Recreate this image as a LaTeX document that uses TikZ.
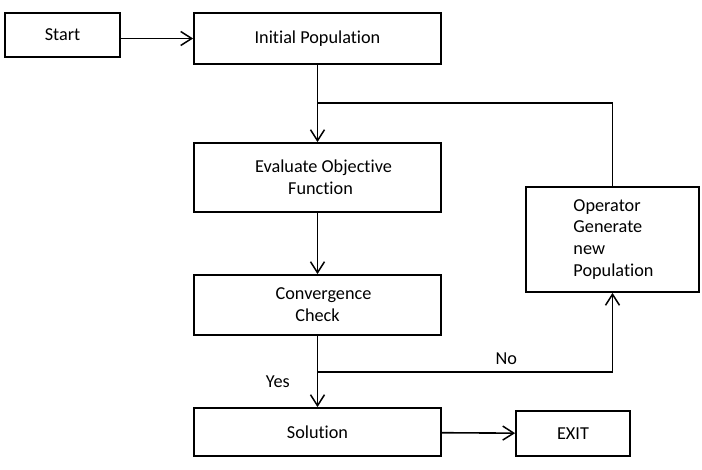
\documentclass[tikz,border=0pt]{standalone}
\usepackage{fontspec}
\setmainfont[Ligatures=NoCommon]{Carlito}
\usetikzlibrary{arrows.meta}
\begin{document}
\begin{tikzpicture}[x=1bp, y=-1bp,
    box/.style={draw, line width=1.8bp, align=center, inner sep=0pt,
        font=\fontsize{18.3}{22}\selectfont},
    arr/.style={line width=1.6bp, -{Straight Barb[length=11bp, width=14bp, line width=1.5bp]}},
    lnk/.style={line width=1.8bp},
    lbl/.style={font=\fontsize{18.3}{22}\selectfont, inner sep=0pt}]
    \useasboundingbox (0,0) rectangle (702,470);
    \node[box, minimum width=115bp, minimum height=44bp] (start) at (62.5,35) {Start};
    \node[box, minimum width=247bp, minimum height=51bp] (init) at (317.5,38.5) {Initial Population};
    \node[box, minimum width=247bp, minimum height=69bp] (eval) at (317.5,177.5) {\hspace*{12bp}Evaluate Objective\\\hspace*{6bp}Function};
    \node[box, minimum width=247bp, minimum height=60bp] (conv) at (317.5,305) {\hspace*{12bp}Convergence\\Check};
    \node[box, minimum width=247bp, minimum height=48bp] (sol) at (317.5,432) {Solution};
    \node[box, minimum width=114bp, minimum height=45bp] (exit) at (573,433.5) {EXIT};
    \node[box, align=left, minimum width=173bp, minimum height=105bp] (oper) at (612.5,239.5) {\hspace*{2bp}Operator\\\hspace*{2bp}Generate\\\hspace*{2bp}new\\\hspace*{2bp}Population};
    \coordinate (join) at (317.5,103);
    \coordinate (split) at (317.5,372);
    \draw[arr] (start.east |- init.west) -- (init.west);
    \draw[arr] (init) -- (eval);
    \draw[arr] (eval) -- (conv);
    \draw[arr] (conv) -- (sol) node[lbl, pos=0.64, left=27bp] {Yes};
    \draw[arr] (sol) -- (exit);
    \draw[lnk] (oper.north) |- (join);
    \draw[arr] (split) -| (oper.south) node[lbl, pos=0.32, above=7bp] {No};
\end{tikzpicture}
\end{document}
